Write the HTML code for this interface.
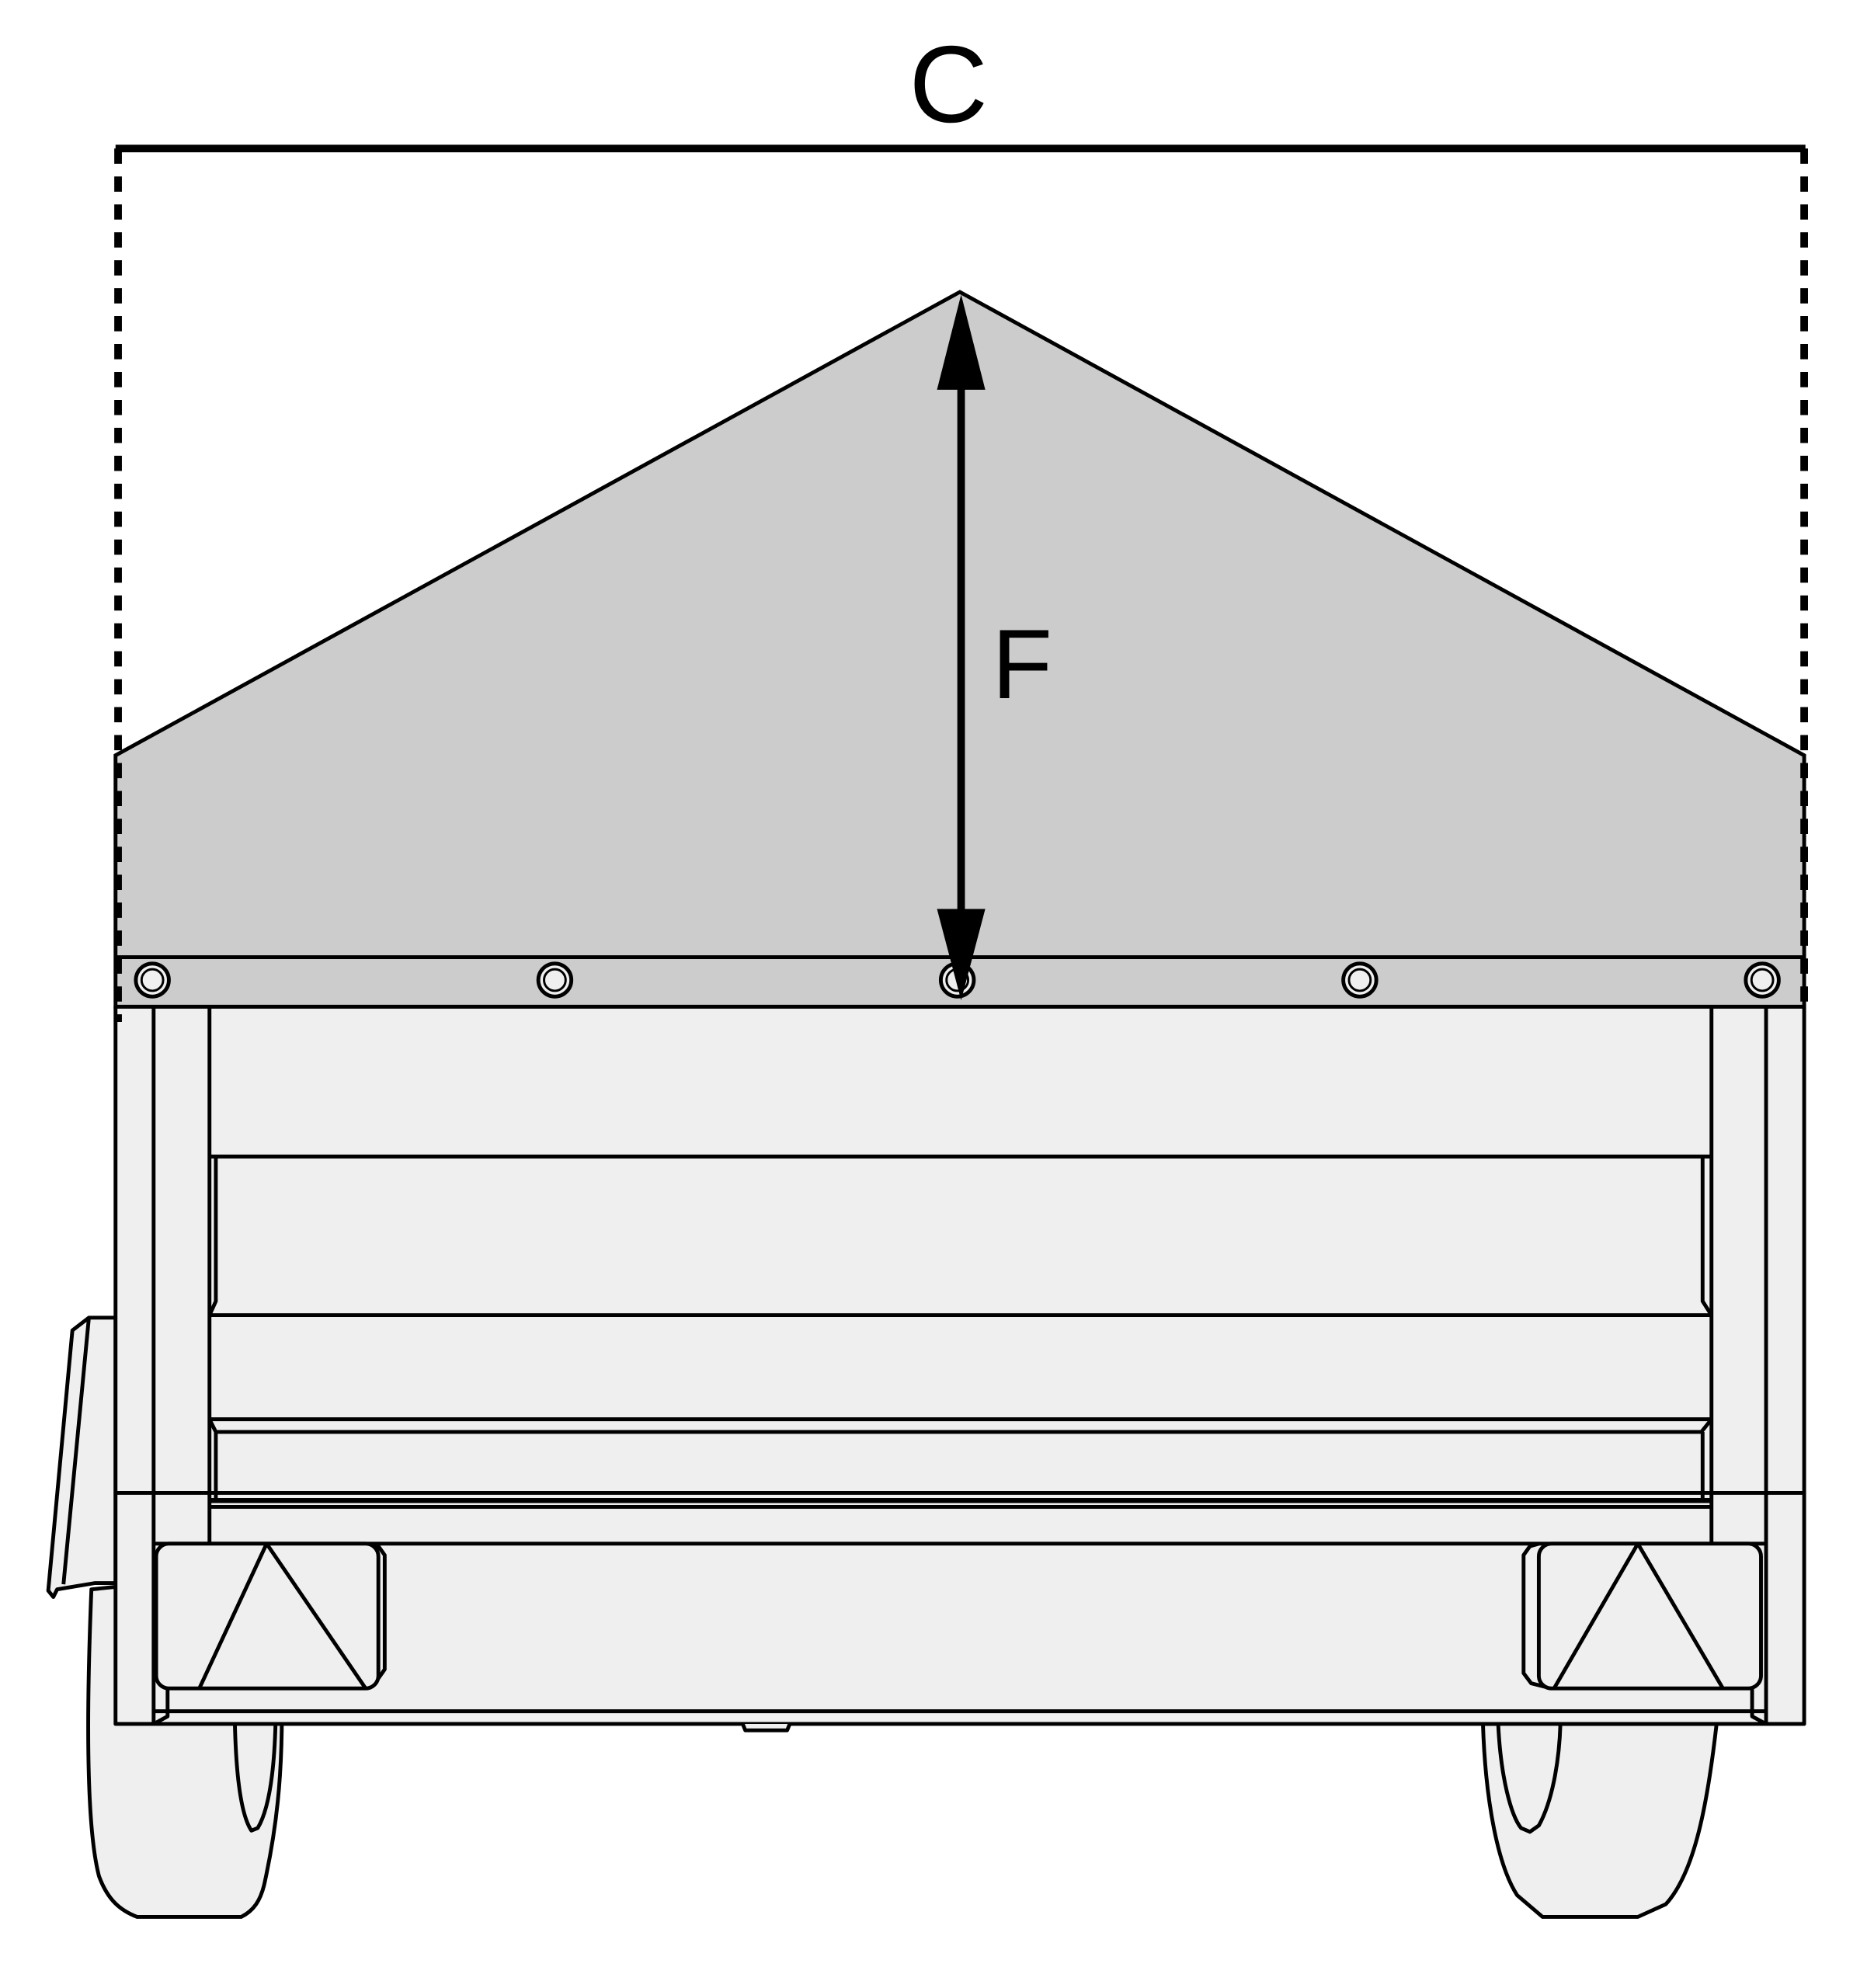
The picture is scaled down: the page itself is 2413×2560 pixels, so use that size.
<!DOCTYPE html>
<html><head><meta charset="utf-8"><style>html,body{margin:0;padding:0;background:#fff}svg{display:block}</style></head>
<body>
<svg width="2413" height="2560" viewBox="0 0 1476 1566" preserveAspectRatio="none" xmlns="http://www.w3.org/2000/svg" font-family="Liberation Sans, sans-serif">
<g stroke="#000" stroke-width="3" fill="#efefef" stroke-linejoin="round">
<!-- wheels -->
<path d="M91,1250 L72,1252 C68,1350 68,1440 78,1478 C85,1497 95,1505 108,1510 L190,1510 C200,1505 205,1497 208,1485 C218,1440 222,1400 222,1350 Z"/>
<path d="M185,1358 C186,1400 190,1430 198,1442 L203,1440 C212,1425 216,1395 217,1358"/>
<path d="M1168,1358 C1170,1420 1180,1470 1195,1493 L1215,1510 L1290,1510 L1312,1500 C1335,1475 1345,1420 1352,1358 Z"/>
<path d="M1180,1358 C1182,1400 1190,1430 1198,1440 L1205,1443 L1212,1438 C1222,1420 1228,1390 1229,1358"/>
<!-- fender -->
<path d="M91,1038 L70,1038 L57,1048 L38,1253 L42,1258 L45,1252 L75,1247 L91,1247 Z"/>
<path d="M70,1038 L50,1248" fill="none"/>
<!-- body -->
<rect x="91" y="793" width="1330" height="565"/>
<line x1="121" y1="793" x2="121" y2="1358"/>
<line x1="165" y1="793" x2="165" y2="1216"/>
<line x1="1348" y1="793" x2="1348" y2="1216"/>
<line x1="1391" y1="793" x2="1391" y2="1358"/>
<line x1="165" y1="911" x2="1348" y2="911"/>
<path d="M170,911 L170,1025 L165,1036 M1341,911 L1341,1025 L1348,1036" fill="none"/>
<line x1="165" y1="1036" x2="1348" y2="1036"/>
<line x1="165" y1="1118" x2="1348" y2="1118"/>
<path d="M165,1118 L170,1128 L1340,1128 L1348,1118 M170,1128 L170,1182 M1341,1128 L1341,1182" fill="none"/>
<line x1="91" y1="1176" x2="1421" y2="1176"/>
<line x1="165" y1="1182" x2="1348" y2="1182" stroke-width="4"/>
<line x1="165" y1="1187" x2="1348" y2="1187"/>
<line x1="121" y1="1216" x2="1391" y2="1216"/>
<line x1="121" y1="1348" x2="1391" y2="1348"/>
<path d="M121,1358 L132,1352 L132,1330 M1380,1330 L1380,1352 L1391,1358" fill="none"/>
<!-- lights -->
<path d="M290,1216 L298,1218 L303,1225 L303,1315 L296,1325 L287,1330"/>
<rect x="123" y="1216" width="175" height="114" rx="10"/>
<path d="M157,1330 L210,1216 L288,1330" fill="none"/>
<path d="M1212,1216 L1205,1218 L1200,1225 L1200,1318 L1206,1326 L1222,1330"/>
<rect x="1212" y="1216" width="175" height="114" rx="10"/>
<path d="M1224,1330 L1290,1216 L1357,1330" fill="none"/>
<path d="M585,1358 L587,1363 L620,1363 L622,1358"/>
</g>
<!-- tarp -->
<polygon points="91,595 756,230 1421,595 1421,793 91,793" fill="#cccccc" stroke="#000" stroke-width="3"/>
<line x1="91" y1="754" x2="1421" y2="754" stroke="#000" stroke-width="3"/>
<g fill="#efefef" stroke="#000">
<g stroke-width="3">
<circle cx="120" cy="772" r="13"/><circle cx="437" cy="772" r="13"/><circle cx="754" cy="772" r="13"/><circle cx="1071" cy="772" r="13"/><circle cx="1388" cy="772" r="13"/>
</g>
<g stroke-width="1.8" fill="none">
<circle cx="120" cy="772" r="8.5"/><circle cx="437" cy="772" r="8.5"/><circle cx="754" cy="772" r="8.5"/><circle cx="1071" cy="772" r="8.5"/><circle cx="1388" cy="772" r="8.5"/>
</g>
</g>
<!-- dimension C -->
<line x1="91" y1="117" x2="1422" y2="117" stroke="#000" stroke-width="6"/>
<line x1="93" y1="117" x2="93" y2="805" stroke="#000" stroke-width="6" stroke-dasharray="12,10"/>
<line x1="1421" y1="117" x2="1421" y2="795" stroke="#000" stroke-width="6" stroke-dasharray="12,10"/>
<text x="747" y="96" font-size="86" text-anchor="middle" fill="#000">C</text>
<!-- arrow F -->
<line x1="757" y1="300" x2="757" y2="720" stroke="#000" stroke-width="6"/>
<polygon points="757,232 738,307 776,307" fill="#000"/>
<polygon points="757,788 738,716 776,716" fill="#000"/>
<text x="805" y="550" font-size="78" text-anchor="middle" fill="#000">F</text>
</svg>
</body></html>
